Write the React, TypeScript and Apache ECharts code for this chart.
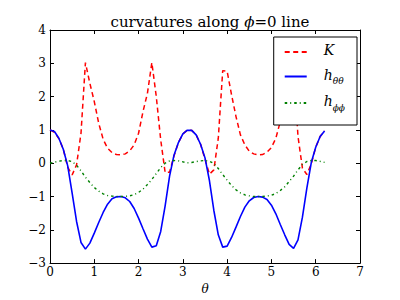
import React, { useEffect, useRef } from "react";
import * as echarts from "echarts";

const theta = [
  0, 0.1, 0.2, 0.3, 0.4, 0.5, 0.6, 0.7, 0.8, 0.9,
  1.0, 1.1, 1.2, 1.3, 1.4, 1.5, 1.6, 1.7, 1.8, 1.9,
  2.0, 2.1, 2.2, 2.3, 2.4, 2.5, 2.6, 2.7, 2.8, 2.9,
  3.0, 3.1, 3.2, 3.3, 3.4, 3.5, 3.6, 3.7, 3.8, 3.9,
  4.0, 4.1, 4.2, 4.3, 4.4, 4.5, 4.6, 4.7, 4.8, 4.9,
  5.0, 5.1, 5.2, 5.3, 5.4, 5.5, 5.6, 5.7, 5.8, 5.9,
  6.0, 6.1, 6.2,
];

const K = [
  1.0, 0.93, 0.74, 0.42, -0.12, -0.35, -0.05, 0.9, 3.02, 2.4,
  1.85, 1.2, 0.72, 0.45, 0.32, 0.26, 0.25, 0.28, 0.37, 0.55,
  0.9, 1.55, 2.1, 3.02, 2.0, 0.7, -0.28, -0.27, 0.22, 0.62,
  0.88, 0.99, 0.985, 0.85, 0.57, 0.12, -0.33, -0.2, 0.75, 2.78,
  2.76, 2.05, 1.4, 0.85, 0.55, 0.36, 0.28, 0.25, 0.26, 0.33,
  0.47, 0.75, 1.25, 1.85, 2.55, 2.9, 0.8, -0.15, -0.34, -0.02,
  0.48, 0.8, 0.97,
];

const hThetaTheta = [
  1.0, 0.95, 0.75, 0.42, -0.08, -0.9, -1.75, -2.38, -2.58, -2.4,
  -2.1, -1.78, -1.48, -1.23, -1.07, -1.01, -1.0, -1.04, -1.15, -1.36,
  -1.65, -1.97, -2.28, -2.52, -2.48, -2.05, -1.28, -0.39, 0.24, 0.62,
  0.88, 0.99, 0.985, 0.85, 0.57, 0.16, -0.52, -1.42, -2.15, -2.52,
  -2.49, -2.23, -1.92, -1.6, -1.32, -1.13, -1.03, -1.0, -1.02, -1.09,
  -1.26, -1.52, -1.84, -2.15, -2.44, -2.56, -2.3, -1.62, -0.75, 0.02,
  0.48, 0.8, 0.97,
];

const hPhiPhi = [
  0.0, 0.03, 0.06, 0.08, 0.08, 0.05, -0.06, -0.23, -0.42, -0.58,
  -0.73, -0.84, -0.92, -0.97, -0.99, -1.0, -1.0, -0.995, -0.98, -0.945,
  -0.875, -0.78, -0.64, -0.49, -0.31, -0.13, 0.0, 0.07, 0.08, 0.07,
  0.04, 0.01, 0.02, 0.05, 0.07, 0.08, 0.06, -0.01, -0.16, -0.34,
  -0.51, -0.67, -0.8, -0.89, -0.95, -0.98, -1.0, -1.0, -1.0, -0.985,
  -0.965, -0.91, -0.82, -0.71, -0.55, -0.39, -0.2, -0.04, 0.05, 0.08,
  0.08, 0.055, 0.025,
];

const seriesNames = ["K", "hθθ", "hϕϕ"];
const legendLabels: Record<string, string> = {
  K: "{sp|}{m|K}",
  "hθθ": "{sp|}{m|h}{s|θθ}",
  "hϕϕ": "{sp|}{m|h}{s|ϕϕ}",
};

const SERIF = "'DejaVu Serif', serif";
const minusFmt = (v: number) => String(v).replace("-", "\u2212");

export default function App() {
  const ref = useRef<HTMLDivElement>(null);
  useEffect(() => {
    if (!ref.current) return;
    const chart = echarts.init(ref.current, null, { renderer: "svg" });
    const tickCommon = {
      axisLine: { show: true, onZero: false, lineStyle: { color: "#000", width: 1 } },
      axisTick: { show: true, inside: true, length: 4, lineStyle: { color: "#000" } },
      splitLine: { show: false },
    };
    chart.setOption({
      animation: false,
      backgroundColor: "#fff",
      title: {
        text: "{a|curvatures along }{b|ϕ}{a|=0 line}",
        left: 205,
        textAlign: "center",
        top: 9,
        textStyle: {
          fontWeight: "normal",
          rich: {
            a: { fontFamily: SERIF, fontSize: 15, fontWeight: "normal", color: "#000" },
            b: { fontFamily: SERIF, fontSize: 15, fontWeight: "normal", fontStyle: "italic", color: "#000" },
          },
        },
      },
      grid: { left: 50, right: 40, top: 30, bottom: 30 },
      legend: {
        data: seriesNames,
        orient: "vertical",
        right: 43,
        top: 37,
        itemWidth: 22,
        itemHeight: 14,
        itemGap: 8.5,
        padding: [6, 12, 13, 10],
        backgroundColor: "#fff",
        borderColor: "#000",
        borderWidth: 1,
        borderRadius: 0,
        itemStyle: { opacity: 0 },
        formatter: (name: string) => legendLabels[name] || name,
        textStyle: {
          fontFamily: SERIF,
          fontSize: 14,
          color: "#000",
          rich: {
            sp: { width: 12 },
            m: { fontFamily: SERIF, fontSize: 14, fontStyle: "italic", color: "#000", verticalAlign: "bottom", padding: [0, 0, 4, 0] },
            s: { fontFamily: SERIF, fontSize: 9, fontStyle: "italic", color: "#000", verticalAlign: "bottom" },
          },
        },
      },
      xAxis: [
        {
          type: "value",
          min: 0,
          max: 7,
          interval: 1,
          ...tickCommon,
          axisLabel: { fontFamily: SERIF, fontSize: 12, color: "#000", margin: 3 },
          name: "θ",
          nameLocation: "middle",
          nameGap: 16,
          nameTextStyle: { fontFamily: SERIF, fontSize: 12, fontStyle: "italic", color: "#000" },
        },
        {
          type: "value",
          position: "top",
          min: 0,
          max: 7,
          interval: 1,
          ...tickCommon,
          axisLabel: { show: false },
        },
      ],
      yAxis: [
        {
          type: "value",
          min: -3,
          max: 4,
          interval: 1,
          ...tickCommon,
          axisLabel: { fontFamily: SERIF, fontSize: 12, color: "#000", margin: 4, formatter: minusFmt },
        },
        {
          type: "value",
          position: "right",
          min: -3,
          max: 4,
          interval: 1,
          ...tickCommon,
          axisLabel: { show: false },
        },
      ],
      series: [
        {
          name: "K",
          type: "line",
          symbol: "none",
          data: theta.map((t, i) => [t, K[i]]),
          lineStyle: { color: "#ff0000", width: 1.5, type: [5, 3.5] },
          itemStyle: { color: "#ff0000" },
        },
        {
          name: "hθθ",
          type: "line",
          symbol: "none",
          data: theta.map((t, i) => [t, hThetaTheta[i]]),
          lineStyle: { color: "#0000ff", width: 1.6 },
          itemStyle: { color: "#0000ff" },
        },
        {
          name: "hϕϕ",
          type: "line",
          symbol: "none",
          data: theta.map((t, i) => [t, hPhiPhi[i]]),
          lineStyle: { color: "#008000", width: 1.4, type: [2.5, 3, 1, 3] },
          itemStyle: { color: "#008000" },
        },
      ],
    });
    return () => chart.dispose();
  }, []);
  return (
    <div
      ref={ref}
      style={{ position: "absolute", left: 0, top: 0, width: 400, height: 300 }}
    />
  );
}
